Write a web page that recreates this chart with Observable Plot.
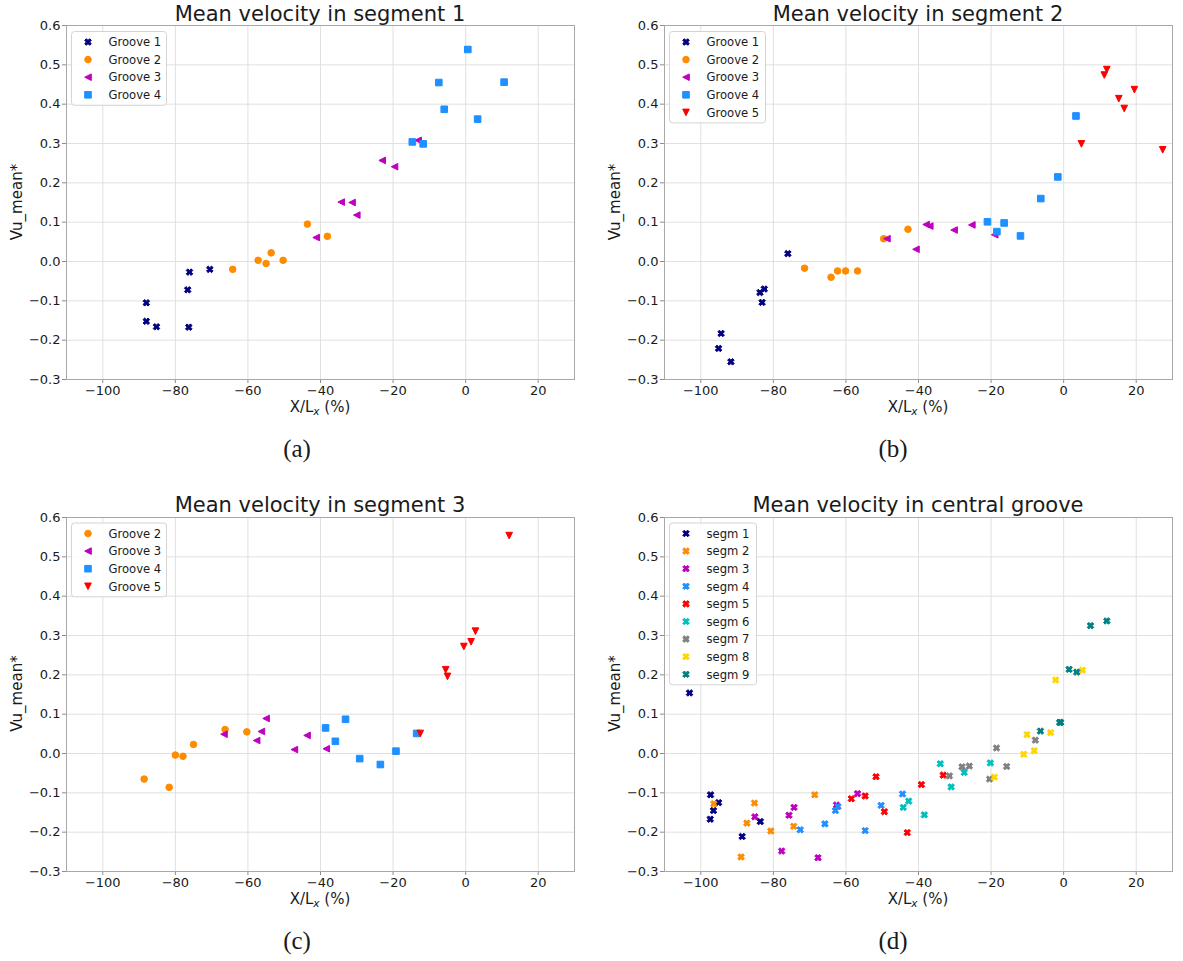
<!DOCTYPE html>
<html>
<head>
<meta charset="utf-8">
<script src="https://cdn.jsdelivr.net/npm/d3@7"></script>
<script src="https://cdn.jsdelivr.net/npm/@observablehq/plot@0.6"></script>
<style>
  body { margin: 0; background: #fff; }
  #fig { position: relative; width: 1183px; height: 961px; background: #fff; overflow: hidden; }
  #fig > svg.panel { position: absolute; }
  g[aria-label^="x-axis"] line, g[aria-label^="y-axis"] line,
  g[aria-label$="axis tick"], g[aria-label$="axis tick"] path { stroke: #8c8c8c; }
</style>
</head>
<body>
<div id="fig"></div>
<script>
// ---------- axis ticks ----------
const xTicks = [-100, -80, -60, -40, -20, 0, 20];
const yTicks = [-0.3, -0.2, -0.1, 0.0, 0.1, 0.2, 0.3, 0.4, 0.5, 0.6];
const xDomain = [-110, 30];
const yDomain = [-0.3, 0.6];

// ---------- (a) segment 1 ----------
const seg1Groove1 = [[-88.0,-0.105],[-88.0,-0.152],[-85.2,-0.166],[-76.3,-0.167],[-76.6,-0.072],[-76.1,-0.027],[-70.5,-0.020]];
const seg1Groove2 = [[-64.2,-0.020],[-57.2,0.003],[-55.0,-0.005],[-53.6,0.022],[-50.3,0.003],[-43.6,0.095],[-38.1,0.064]];
const seg1Groove3 = [[-41.2,0.061],[-34.3,0.151],[-31.3,0.150],[-30.0,0.118],[-23.0,0.257],[-19.6,0.241],[-13.1,0.308]];
const seg1Groove4 = [[-14.7,0.304],[-11.7,0.299],[-7.4,0.455],[-5.9,0.387],[0.6,0.539],[3.3,0.362],[10.6,0.456]];

// ---------- (b) segment 2 ----------
const seg2Groove1 = [[-94.4,-0.183],[-95.1,-0.221],[-91.7,-0.255],[-83.7,-0.079],[-82.5,-0.070],[-83.1,-0.104],[-76.0,0.020]];
const seg2Groove2 = [[-71.4,-0.017],[-64.1,-0.040],[-62.3,-0.024],[-60.1,-0.024],[-56.8,-0.024],[-49.6,0.058],[-42.9,0.082]];
const seg2Groove3 = [[-48.7,0.058],[-40.7,0.031],[-37.9,0.094],[-36.9,0.090],[-30.2,0.080],[-25.3,0.093],[-19.0,0.068]];
const seg2Groove4 = [[-21.0,0.101],[-18.4,0.076],[-16.4,0.098],[-11.9,0.065],[-6.3,0.160],[-1.6,0.215],[3.4,0.370]];
const seg2Groove5 = [[4.9,0.299],[11.2,0.474],[11.9,0.488],[15.2,0.414],[16.7,0.389],[19.5,0.437],[27.3,0.284]];

// ---------- (c) segment 3 ----------
const seg3Groove2 = [[-88.6,-0.065],[-81.7,-0.086],[-80.0,-0.004],[-77.9,-0.007],[-75.0,0.023],[-66.3,0.061],[-60.3,0.055]];
const seg3Groove3 = [[-66.6,0.049],[-57.6,0.033],[-56.3,0.056],[-55.0,0.089],[-47.2,0.010],[-43.7,0.046],[-38.4,0.012]];
const seg3Groove4 = [[-38.6,0.065],[-35.9,0.031],[-33.1,0.087],[-29.2,-0.013],[-23.5,-0.028],[-19.2,0.006],[-13.5,0.051]];
const seg3Groove5 = [[-12.5,0.051],[-5.5,0.213],[-5.0,0.196],[-0.5,0.272],[1.5,0.284],[2.7,0.311],[12.0,0.554]];

// ---------- (d) central groove ----------
const centSegm1 = [[-103.1,0.154],[-97.3,-0.105],[-97.4,-0.167],[-96.5,-0.145],[-95.1,-0.125],[-88.6,-0.211],[-83.6,-0.173]];
const centSegm2 = [[-96.4,-0.128],[-88.9,-0.263],[-87.3,-0.177],[-85.2,-0.126],[-80.7,-0.197],[-74.4,-0.185],[-68.6,-0.105]];
const centSegm3 = [[-85.1,-0.161],[-77.7,-0.248],[-75.7,-0.157],[-74.3,-0.137],[-67.7,-0.265],[-62.6,-0.131],[-56.8,-0.102]];
const centSegm4 = [[-72.6,-0.194],[-65.8,-0.179],[-62.9,-0.145],[-62.2,-0.135],[-54.7,-0.196],[-50.3,-0.132],[-44.4,-0.103]];
const centSegm5 = [[-58.5,-0.115],[-54.7,-0.108],[-51.7,-0.059],[-49.4,-0.148],[-43.1,-0.201],[-39.2,-0.079],[-33.2,-0.055]];
const centSegm6 = [[-44.2,-0.137],[-42.7,-0.121],[-38.4,-0.156],[-34.0,-0.026],[-31.0,-0.085],[-27.4,-0.048],[-20.2,-0.024]];
const centSegm7 = [[-31.5,-0.057],[-28.0,-0.034],[-26.0,-0.032],[-20.4,-0.065],[-18.5,0.014],[-15.7,-0.033],[-7.8,0.034]];
const centSegm8 = [[-19.1,-0.060],[-11.0,-0.002],[-10.1,0.048],[-8.1,0.007],[-3.6,0.053],[-2.2,0.187],[5.2,0.212]];
const centSegm9 = [[-6.4,0.057],[-1.1,0.079],[-0.8,0.079],[1.5,0.214],[3.6,0.207],[7.4,0.325],[11.9,0.337]];

// ---------- marker shapes (matplotlib-like) ----------
function polySymbol(pts) {
  return { draw(ctx, size) {
    const h = Math.sqrt(size / Math.PI);
    pts.forEach(([x, y], i) => i ? ctx.lineTo(x * h, y * h) : ctx.moveTo(x * h, y * h));
    ctx.closePath();
  }};
}
const AL = 1.0607, AW = 0.3536;
const plusPts = [[-AW,-AL],[AW,-AL],[AW,-AW],[AL,-AW],[AL,AW],[AW,AW],[AW,AL],[-AW,AL],[-AW,AW],[-AL,AW],[-AL,-AW],[-AW,-AW]];
const symX = polySymbol(plusPts.map(([x, y]) => [(x - y) / Math.SQRT2, (x + y) / Math.SQRT2]));
const symSquare = polySymbol([[-1,-1],[1,-1],[1,1],[-1,1]]);
const symLeft = polySymbol([[-1,0],[1,-1],[1,1]]);
const symDown = polySymbol([[0,1],[-1,-1],[1,-1]]);
const symCircle = { draw(ctx, size) { const h = Math.sqrt(size / Math.PI); ctx.moveTo(h, 0); ctx.arc(0, 0, h, 0, 2 * Math.PI); } };

const R = 3.3;
const FW = 508, FH = 354;

const panels = [
  { fx: 66, fy: 25, title: "Mean velocity in segment 1", cap: "(a)", capX: 297, legendW: 95, series: [
    { name: "Groove 1", data: seg1Groove1, color: "#000080", symbol: symX },
    { name: "Groove 2", data: seg1Groove2, color: "#ff8c00", symbol: symCircle },
    { name: "Groove 3", data: seg1Groove3, color: "#bf00bf", symbol: symLeft },
    { name: "Groove 4", data: seg1Groove4, color: "#1e90ff", symbol: symSquare } ] },
  { fx: 664, fy: 25, title: "Mean velocity in segment 2", cap: "(b)", capX: 893, legendW: 96, series: [
    { name: "Groove 1", data: seg2Groove1, color: "#000080", symbol: symX },
    { name: "Groove 2", data: seg2Groove2, color: "#ff8c00", symbol: symCircle },
    { name: "Groove 3", data: seg2Groove3, color: "#bf00bf", symbol: symLeft },
    { name: "Groove 4", data: seg2Groove4, color: "#1e90ff", symbol: symSquare },
    { name: "Groove 5", data: seg2Groove5, color: "#ff0000", symbol: symDown } ] },
  { fx: 66, fy: 516.5, title: "Mean velocity in segment 3", cap: "(c)", capX: 297, legendW: 95, series: [
    { name: "Groove 2", data: seg3Groove2, color: "#ff8c00", symbol: symCircle },
    { name: "Groove 3", data: seg3Groove3, color: "#bf00bf", symbol: symLeft },
    { name: "Groove 4", data: seg3Groove4, color: "#1e90ff", symbol: symSquare },
    { name: "Groove 5", data: seg3Groove5, color: "#ff0000", symbol: symDown } ] },
  { fx: 664, fy: 516.5, title: "Mean velocity in central groove", cap: "(d)", capX: 893, legendW: 87, series: [
    { name: "segm 1", data: centSegm1, color: "#000080", symbol: symX },
    { name: "segm 2", data: centSegm2, color: "#ff8c00", symbol: symX },
    { name: "segm 3", data: centSegm3, color: "#bf00bf", symbol: symX },
    { name: "segm 4", data: centSegm4, color: "#1e90ff", symbol: symX },
    { name: "segm 5", data: centSegm5, color: "#ff0000", symbol: symX },
    { name: "segm 6", data: centSegm6, color: "#00bfbf", symbol: symX },
    { name: "segm 7", data: centSegm7, color: "#808080", symbol: symX },
    { name: "segm 8", data: centSegm8, color: "#ffd700", symbol: symX },
    { name: "segm 9", data: centSegm9, color: "#008080", symbol: symX } ] }
];

const fig = document.getElementById("fig");
const ML = 66, MT = 25, MR = 10, MB = 30;

for (const p of panels) {
  const chart = Plot.plot({
    width: ML + FW + MR, height: MT + FH + MB,
    marginLeft: ML, marginRight: MR, marginTop: MT, marginBottom: MB,
    x: { domain: xDomain, ticks: xTicks, tickFormat: d3.format("d"), tickSize: 4, tickPadding: 2, label: null },
    y: { domain: yDomain, ticks: yTicks, tickFormat: d3.format(".1f"), tickSize: 4, tickPadding: 2, label: null },
    style: { fontFamily: "DejaVu Sans", fontSize: "13px", color: "#1a1a1a", background: "transparent", overflow: "visible" },
    marks: [
      Plot.ruleX(xTicks, { stroke: "#dcdcdc", strokeWidth: 0.9 }),
      Plot.ruleY(yTicks, { stroke: "#dcdcdc", strokeWidth: 0.9 }),
      ...p.series.map(s => Plot.dot(s.data, {
        x: d => d[0], y: d => d[1], r: R, symbol: s.symbol,
        fill: s.color, stroke: s.color, strokeWidth: 1
      })),
      Plot.frame({ stroke: "#a8a8a8", strokeWidth: 1 })
    ]
  });
  chart.classList.add("panel");
  chart.style.left = (p.fx - ML) + "px";
  chart.style.top = (p.fy - MT) + "px";
  fig.appendChild(chart);
}

// ---------- overlay: titles, labels, legends, captions ----------
const ov = d3.select(fig).append("svg")
  .attr("width", 1183).attr("height", 961)
  .style("position", "absolute").style("left", "0px").style("top", "0px")
  .style("font-family", "DejaVu Sans").style("fill", "#1a1a1a");

for (const p of panels) {
  const cx = p.fx + FW / 2;
  ov.append("text").attr("x", cx).attr("y", p.fy - 4.5)
    .attr("text-anchor", "middle").attr("font-size", 21).text(p.title);

  const xl = ov.append("text").attr("x", cx).attr("y", p.fy + FH + 33)
    .attr("text-anchor", "middle").attr("font-size", 15);
  xl.append("tspan").text("X/L");
  xl.append("tspan").attr("font-size", 10.5).attr("font-style", "italic").attr("dy", 3).text("x");
  xl.append("tspan").attr("dy", -3).text(" (%)");

  ov.append("text")
    .attr("transform", `translate(${p.fx - 44},${p.fy + FH / 2}) rotate(-90)`)
    .attr("text-anchor", "middle").attr("font-size", 15).text("Vu_mean*");

  ov.append("text").attr("x", p.capX).attr("y", p.fy + FH + 78)
    .attr("text-anchor", "middle").attr("font-size", 25)
    .attr("font-family", "Liberation Serif").text(p.cap);

  const n = p.series.length;
  const lg = ov.append("g").attr("transform", `translate(${p.fx + 5.5},${p.fy + 6.5})`);
  lg.append("rect").attr("width", p.legendW).attr("height", 21 + (n - 1) * 17.6)
    .attr("rx", 3).attr("fill", "#fff").attr("fill-opacity", 0.85)
    .attr("stroke", "#d4d4d4").attr("stroke-width", 1);
  p.series.forEach((s, i) => {
    const yy = 10.5 + i * 17.6;
    lg.append("path").attr("transform", `translate(16.5,${yy})`)
      .attr("d", d3.symbol(s.symbol, Math.PI * R * R)())
      .attr("fill", s.color).attr("stroke", s.color).attr("stroke-width", 1);
    lg.append("text").attr("x", 37).attr("y", yy + 4.2).attr("font-size", 11.6).text(s.name);
  });
}
</script>
</body>
</html>
